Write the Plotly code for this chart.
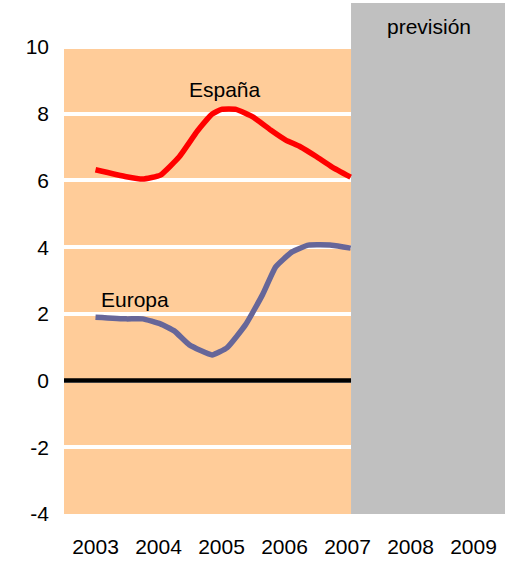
import plotly.graph_objects as go

# Series (decimal year, value in %)
spain_x = [2003.00, 2003.49, 2003.75, 2004.03, 2004.33, 2004.62, 2004.85, 2005.00,
           2005.23, 2005.51, 2005.78, 2006.02, 2006.25, 2006.51, 2006.75, 2007.05]
spain_y = [6.32, 6.11, 6.04, 6.16, 6.71, 7.49, 7.99, 8.13,
           8.13, 7.89, 7.51, 7.21, 7.01, 6.71, 6.41, 6.10]

europe_x = [2003.00, 2003.49, 2003.75, 2004.03, 2004.25, 2004.49, 2004.85, 2005.09,
            2005.38, 2005.65, 2005.86, 2006.12, 2006.38, 2006.75, 2007.05]
europe_y = [1.90, 1.85, 1.85, 1.70, 1.49, 1.07, 0.77, 0.99,
            1.67, 2.57, 3.41, 3.86, 4.06, 4.06, 3.97]

years = [2003, 2004, 2005, 2006, 2007, 2008, 2009]
y_ticks = [-4, -2, 0, 2, 4, 6, 8, 10]

history_end = 2007.056
x_min, x_max = 2002.5, 2009.5
y_min, y_top = -4, 11.32

FONT = "Liberation Sans, Arial, sans-serif"

fig = go.Figure()

# zero reference line across the historical period
fig.add_trace(go.Scatter(x=[x_min, history_end], y=[0, 0], mode="lines",
                         line=dict(color="black", width=4.5),
                         hoverinfo="skip", showlegend=False))

fig.add_trace(go.Scatter(x=spain_x, y=spain_y, mode="lines", name="España",
                         line=dict(color="#FF0000", width=5.5, shape="spline", smoothing=0.4),
                         showlegend=False))
fig.add_trace(go.Scatter(x=europe_x, y=europe_y, mode="lines", name="Europa",
                         line=dict(color="#666699", width=5.5, shape="spline", smoothing=0.4),
                         showlegend=False))

# historical background and forecast band
fig.add_shape(type="rect", xref="x", yref="y", x0=x_min, x1=history_end,
              y0=y_min, y1=10, fillcolor="#FFCC99", line_width=0, layer="below")
fig.add_shape(type="rect", xref="x", yref="y", x0=history_end, x1=x_max,
              y0=y_min, y1=y_top, fillcolor="#C0C0C0", line_width=0, layer="between")

fig.add_annotation(x=2005.05, y=8.74, text="España", showarrow=False,
                   font=dict(family=FONT, size=21, color="black"))
fig.add_annotation(x=2003.62, y=2.42, text="Europa", showarrow=False,
                   font=dict(family=FONT, size=21, color="black"))
fig.add_annotation(x=2008.29, y=10.63, text="previsión", showarrow=False,
                   font=dict(family=FONT, size=21, color="black"))

fig.update_layout(
    width=505, height=561,
    margin=dict(l=64, r=0, t=3, b=47),
    paper_bgcolor="white", plot_bgcolor="white",
    font=dict(family=FONT, size=21, color="black"),
    xaxis=dict(range=[x_min, x_max], tickvals=years, ticktext=[str(y) for y in years],
               showgrid=False, zeroline=False, showline=False, ticks="",
               ticklabelstandoff=18, tickfont=dict(size=21)),
    yaxis=dict(range=[y_min, y_top], tickvals=y_ticks, ticktext=[str(v) for v in y_ticks],
               showgrid=True, gridcolor="white", gridwidth=4, zeroline=False,
               showline=False, ticks="", ticklabelstandoff=14, tickfont=dict(size=21)),
)

fig.write_html("out.html")
